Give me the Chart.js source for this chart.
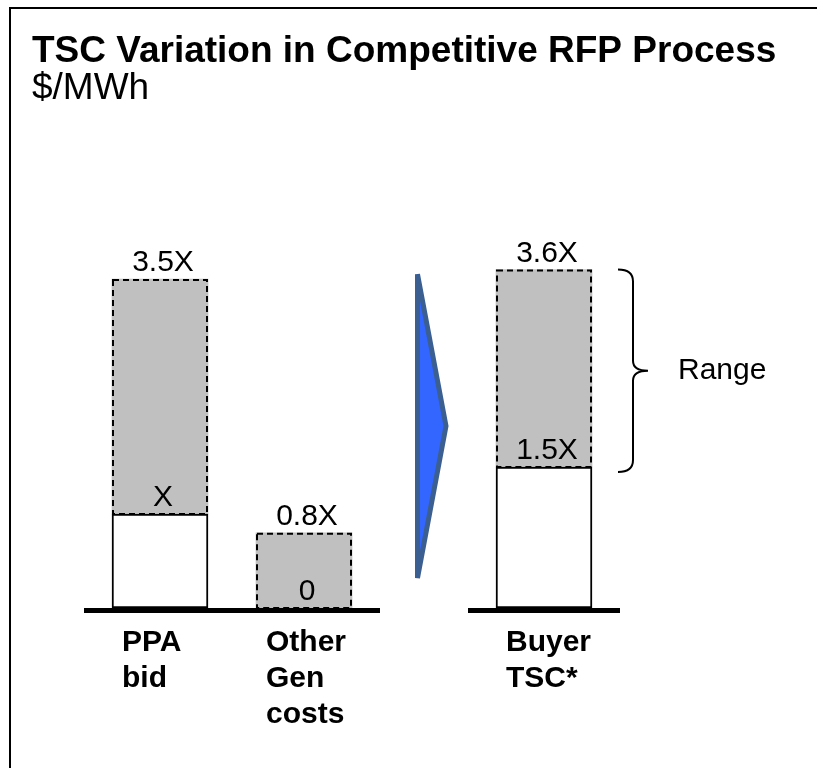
<!DOCTYPE html>
<html>
<head>
<meta charset="utf-8">
<script src="https://cdn.jsdelivr.net/npm/chart.js@4/dist/chart.umd.min.js"></script>
<style>
  html, body { margin: 0; padding: 0; background: #fff; }
  #wrap { width: 817px; height: 768px; }
</style>
</head>
<body>
<div id="wrap"><canvas id="tscChart"></canvas></div>
<script>
// categories (with their slot on the x axis, the gap holds the arrow)
const categories = [['PPA', 'bid'], ['Other', 'Gen', 'costs'], ['Buyer', 'TSC*']];
const categoryX = [0, 3, 8];
// values in multiples of X
const baseValues = [1, 0, 1.5];     // white part
const topValues = [3.5, 0.8, 3.6];  // top of the grey (range) part
const rangeText = 'Range';

function fmtX(v) {
    if (v === 0) return '0';
    if (v === 1) return 'X';
    return v + 'X';
}

const FONT = "'Liberation Sans', Arial, sans-serif";
Chart.defaults.font.family = FONT;
Chart.defaults.color = '#000';

const decor = {
    id: 'decor',
    beforeDraw(chart) {
        // frame
        const ctx = chart.ctx;
        ctx.save();
        ctx.fillStyle = '#000';
        ctx.fillRect(9, 7, 2, chart.height - 7);
        ctx.fillRect(9, 7, chart.width - 9, 2);
        ctx.restore();
    },
    afterDatasetsDraw(chart) {
        const ctx = chart.ctx;
        const y = chart.scales.y;
        const base = chart.getDatasetMeta(0).data;
        const rng = chart.getDatasetMeta(1).data;

        // dashed outline round the grey range bars
        ctx.save();
        ctx.setLineDash([6, 4]);
        ctx.lineWidth = 2;
        ctx.strokeStyle = '#000';
        rng.forEach(b => {
            ctx.strokeRect(b.x - b.width / 2 + 1, b.y + 1, b.width - 2, b.base - b.y - 1);
        });
        ctx.restore();

        // base lines under each group
        const y0 = y.getPixelForValue(0);
        ctx.fillStyle = '#000';
        [[0, 1], [2]].forEach(g => {
            const l = rng[g[0]], r = rng[g[g.length - 1]];
            const xl = l.x - l.width / 2 - 28;
            const xr = r.x + r.width / 2 + 28;
            ctx.fillRect(xl, y0, xr - xl, 5);
        });

        // value labels
        ctx.font = '30px ' + FONT;
        ctx.textAlign = 'center';
        ctx.textBaseline = 'alphabetic';
        categoryX.forEach((_, i) => {
            ctx.fillText(fmtX(topValues[i]), rng[i].x + 3, rng[i].y - 8);
            ctx.fillText(fmtX(baseValues[i]), base[i].x + 3, base[i].y - 8);
        });

        // arrow between the inputs and the result
        const a = rng[1], b = rng[2];
        const left = a.x + a.width / 2 + 63;
        const tip = b.x - b.width / 2 - 48;
        const top = y.getPixelForValue(3.55);
        const bottom = y.getPixelForValue(0.32);
        const mid = (top + bottom) / 2;
        ctx.save();
        ctx.beginPath();
        ctx.moveTo(left + 2.5, top);
        ctx.lineTo(tip - 2, mid);
        ctx.lineTo(left + 2.5, bottom);
        ctx.closePath();
        ctx.fillStyle = '#3366ff';
        ctx.fill();
        ctx.lineWidth = 5;
        ctx.lineJoin = 'miter';
        ctx.miterLimit = 4;
        ctx.strokeStyle = '#3c5f91';
        ctx.stroke();
        ctx.restore();

        // brace for the range
        const x0 = b.x + b.width / 2 + 26;
        const bt = b.y, bb = b.base + 5, bm = (bt + bb) / 2;
        ctx.save();
        ctx.beginPath();
        ctx.moveTo(x0, bt);
        ctx.quadraticCurveTo(x0 + 15, bt, x0 + 15, bt + 12);
        ctx.lineTo(x0 + 15, bm - 10);
        ctx.quadraticCurveTo(x0 + 15, bm, x0 + 30, bm);
        ctx.quadraticCurveTo(x0 + 15, bm, x0 + 15, bm + 10);
        ctx.lineTo(x0 + 15, bb - 12);
        ctx.quadraticCurveTo(x0 + 15, bb, x0, bb);
        ctx.lineWidth = 2;
        ctx.strokeStyle = '#000';
        ctx.stroke();
        ctx.font = '30px ' + FONT;
        ctx.textAlign = 'left';
        ctx.textBaseline = 'middle';
        ctx.fillStyle = '#000';
        ctx.fillText(rangeText, x0 + 60, bm);
        ctx.restore();
    }
};

new Chart(document.getElementById('tscChart'), {
    type: 'bar',
    data: {
        datasets: [{
            label: 'Base',
            data: categoryX.map((x, i) => ({ x: x, y: [0, baseValues[i]] })),
            backgroundColor: '#ffffff',
            borderColor: '#000000',
            borderWidth: 2,
            borderSkipped: false,
            barThickness: 96,
            grouped: false
        }, {
            label: 'Range',
            data: categoryX.map((x, i) => ({ x: x, y: [baseValues[i], topValues[i]] })),
            backgroundColor: '#c0c0c0',
            borderWidth: 0,
            barThickness: 96,
            grouped: false
        }]
    },
    options: {
        responsive: true,
        maintainAspectRatio: false,
        animation: false,
        layout: { padding: { top: 0, left: 32, right: 33, bottom: 18 } },
        plugins: {
            legend: { display: false },
            tooltip: { enabled: false },
            title: {
                display: true,
                text: 'TSC Variation in Competitive RFP Process',
                align: 'start',
                color: '#000',
                font: { size: 37, weight: 'bold', lineHeight: 1 },
                padding: { top: 33, bottom: 0 }
            },
            subtitle: {
                display: true,
                text: '$/MWh',
                align: 'start',
                color: '#000',
                font: { size: 37, weight: 'normal', lineHeight: 1 },
                padding: { top: 0, bottom: 125 }
            }
        },
        scales: {
            x: {
                type: 'linear',
                offset: false,
                min: -8 / 3,
                max: 13,
                grid: { display: false, drawTicks: false },
                border: { display: false },
                afterBuildTicks: s => { s.ticks = categoryX.map(v => ({ value: v })); },
                afterFit: s => { s.paddingLeft = 0; s.paddingRight = 0; },
                ticks: {
                    callback: (v, i) => categories[i],
                    align: 'start',
                    labelOffset: -38,
                    padding: 17,
                    autoSkip: false,
                    maxRotation: 0,
                    color: '#000',
                    font: { size: 30, weight: 'bold', lineHeight: 1.2 }
                }
            },
            y: {
                display: false,
                min: 0,
                max: 4
            }
        }
    },
    plugins: [decor]
});
</script>
</body>
</html>
